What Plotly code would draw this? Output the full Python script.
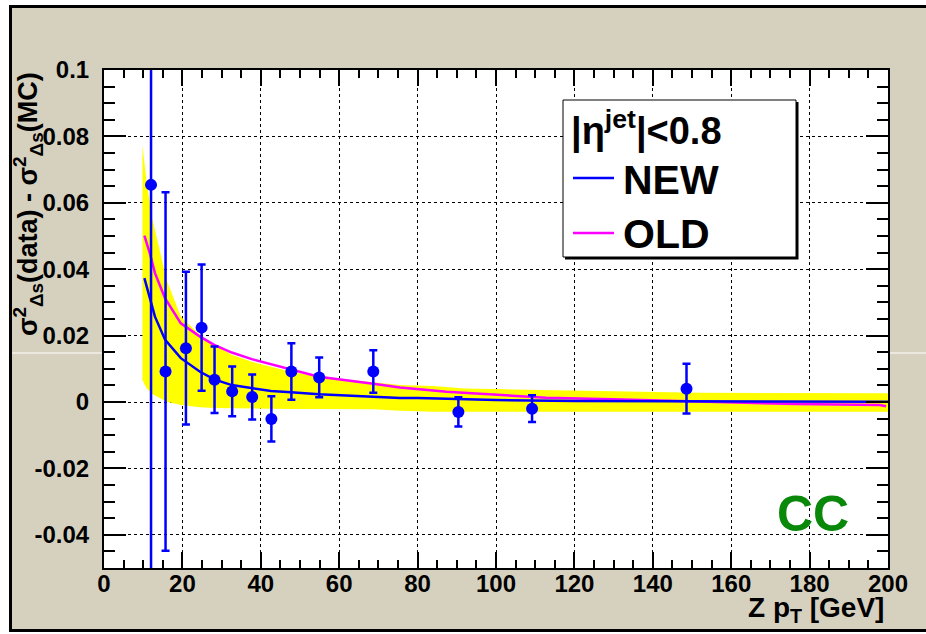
import plotly.graph_objects as go

# ---------------- data ----------------
pt_x = [12.0, 15.7, 20.9, 24.9, 28.2, 32.7, 37.8, 42.7, 47.8, 54.9, 68.7, 90.4, 109.2, 148.6]
pt_y = [0.0654, 0.0092, 0.0162, 0.0224, 0.0067, 0.0032, 0.0015, -0.0051, 0.0092, 0.0074, 0.0092, -0.0030, -0.0020, 0.0040]
pt_err = [0.13, 0.054, 0.023, 0.019, 0.010, 0.0075, 0.0068, 0.0068, 0.0085, 0.0060, 0.0064, 0.0044, 0.0040, 0.0075]

new_x = [10.3, 11.7, 13.0, 15.6, 19.6, 24.5, 28.1, 32.6, 37.7, 42.6, 47.7, 54.8, 68.7, 75.5, 80, 90, 100, 120, 140, 160, 180, 200]
new_y = [0.0373, 0.0317, 0.0257, 0.0187, 0.0132, 0.0091, 0.0068, 0.0051, 0.0041, 0.0033, 0.0029, 0.0023, 0.0016, 0.0012, 0.0012, 0.0008, 0.0006, 0.0003, 0.0002, 0.0002, 0.0001, 0.0001]

old_x = [10.3, 11.7, 13.0, 15.6, 19.6, 24.5, 28.1, 32.6, 37.7, 42.6, 47.7, 54.8, 68.7, 75.5, 87.4, 100, 112.8, 129.8, 142.5, 159.5, 176.5, 197.8, 199.5]
old_y = [0.0501, 0.0448, 0.0388, 0.0312, 0.0237, 0.0197, 0.0172, 0.0149, 0.0129, 0.0114, 0.0098, 0.0076, 0.0055, 0.0044, 0.0031, 0.0021, 0.0013, 0.0008, 0.0004, -0.0002, -0.0006, -0.0009, -0.0013]

band_x = [9.8, 10.9, 12.3, 16.0, 19.6, 24.5, 28.1, 32.6, 37.7, 42.6, 47.7, 54.8, 68.7, 75.5, 84, 92, 104, 123, 152, 200]
band_hi = [0.0774, 0.0660, 0.0553, 0.0367, 0.0257, 0.0202, 0.0172, 0.0142, 0.0121, 0.0106, 0.0091, 0.0076, 0.0058, 0.0051, 0.0048, 0.0041, 0.0038, 0.0034, 0.0028, 0.0026]
band_lo = [0.0066, 0.0041, 0.0024, 0.0001, -0.0009, -0.0016, -0.0018, -0.0019, -0.0020, -0.0021, -0.0021, -0.0021, -0.0022, -0.0026, -0.0029, -0.0029, -0.0029, -0.0029, -0.0029, -0.0029]

x_ticks = [0, 20, 40, 60, 80, 100, 120, 140, 160, 180, 200]
x_ticktext = ["0", "20", "40", "60", "80", "100", "120", "140", "160", "180", "200"]
y_ticks = [-0.04, -0.02, 0.0, 0.02, 0.04, 0.06, 0.08, 0.1]
y_ticktext = ["-0.04", "-0.02", "0", "0.02", "0.04", "0.06", "0.08", "0.1"]

# ---------------- layout constants ----------------
W, H = 926, 634
L, R, T, B = 104, 38, 70, 66
PW, PH = W - L - R, H - T - B
BEIGE = "#d6d1bf"
FONT = "Liberation Sans"


def px(xpage):
    return (xpage - L) / PW


def py(ypage):
    return (H - B - ypage) / PH


fig = go.Figure()

# yellow band
fig.add_trace(go.Scatter(x=band_x, y=band_lo, mode="lines", line=dict(width=0, color="#ffff00"),
                         showlegend=False, hoverinfo="skip"))
fig.add_trace(go.Scatter(x=band_x, y=band_hi, mode="lines", line=dict(width=0, color="#ffff00"),
                         fill="tonexty", fillcolor="#ffff00", showlegend=False, hoverinfo="skip"))
# curves
fig.add_trace(go.Scatter(x=old_x, y=old_y, mode="lines", line=dict(color="#ff00ff", width=2.5),
                         showlegend=False, name="OLD"))
fig.add_trace(go.Scatter(x=new_x, y=new_y, mode="lines", line=dict(color="#0000ff", width=2.5),
                         showlegend=False, name="NEW"))
# data points
fig.add_trace(go.Scatter(x=pt_x, y=pt_y, mode="markers",
                         marker=dict(color="#0000ff", size=12, symbol="circle"),
                         error_y=dict(type="data", array=pt_err, color="#0000ff", thickness=2.5, width=4),
                         showlegend=False, name="data"))

axis_common = dict(
    ticks="inside", tickwidth=2, tickcolor="black",
    showgrid=True, gridcolor="black", griddash="dot", gridwidth=1,
    showline=True, linecolor="black", linewidth=2, mirror="ticks",
    zeroline=False,
    tickfont=dict(family=FONT, size=24, color="black", weight="bold"),
)

fig.update_xaxes(range=[0, 200], tickmode="array", tickvals=x_ticks, ticktext=x_ticktext, ticklen=16,
                 minor=dict(ticks="inside", ticklen=8, tickwidth=2, tickcolor="black", dtick=5, tick0=0,
                            showgrid=False),
                 ticklabelstandoff=-7,
                 **axis_common)
fig.update_yaxes(range=[-0.05, 0.1], tickmode="array", tickvals=y_ticks, ticktext=y_ticktext, ticklen=22,
                 minor=dict(ticks="inside", ticklen=11, tickwidth=2, tickcolor="black", dtick=0.005,
                            tick0=0, showgrid=False),
                 ticklabelstandoff=8,
                 **axis_common)

shapes = []
# canvas frame: white edges + black border lines
shapes.append(dict(type="rect", xref="paper", yref="paper", x0=px(-5), x1=px(940), y0=py(-5), y1=py(5),
                   fillcolor="white", line=dict(width=0), layer="below"))
shapes.append(dict(type="rect", xref="paper", yref="paper", x0=px(-5), x1=px(9), y0=py(-5), y1=py(640),
                   fillcolor="white", line=dict(width=0), layer="below"))
shapes.append(dict(type="rect", xref="paper", yref="paper", x0=px(-5), x1=px(940), y0=py(632), y1=py(640),
                   fillcolor="white", line=dict(width=0), layer="below"))
shapes.append(dict(type="line", xref="paper", yref="paper", x0=px(9), x1=px(940), y0=py(6.5), y1=py(6.5),
                   line=dict(color="black", width=3), layer="below"))
shapes.append(dict(type="line", xref="paper", yref="paper", x0=px(10.5), x1=px(10.5), y0=py(5), y1=py(632),
                   line=dict(color="black", width=3), layer="below"))
shapes.append(dict(type="line", xref="paper", yref="paper", x0=px(9), x1=px(940), y0=py(630.5), y1=py(630.5),
                   line=dict(color="black", width=3), layer="below"))
# white horizontal artifact line
shapes.append(dict(type="line", xref="paper", yref="paper", x0=px(12), x1=px(940), y0=py(353), y1=py(353),
                   line=dict(color="white", width=1), layer="below"))
# legend box with shadow
shapes.append(dict(type="rect", xref="paper", yref="paper", x0=px(565), x1=px(798.5), y0=py(259.5), y1=py(102),
                   fillcolor="black", line=dict(width=0), layer="above"))
shapes.append(dict(type="rect", xref="paper", yref="paper", x0=px(563), x1=px(796), y0=py(257), y1=py(100),
                   fillcolor="white", line=dict(color="black", width=1), layer="above"))
shapes.append(dict(type="line", xref="paper", yref="paper", x0=px(573), x1=px(614), y0=py(178), y1=py(178),
                   line=dict(color="#0000ff", width=2.5), layer="above"))
shapes.append(dict(type="line", xref="paper", yref="paper", x0=px(573), x1=px(614), y0=py(233), y1=py(233),
                   line=dict(color="#ff00ff", width=2.5), layer="above"))

annotations = [
    dict(text="|η<sup>jet</sup>|<0.8", xref="paper", yref="paper", x=px(569), y=py(128),
         xanchor="left", yanchor="middle", showarrow=False,
         font=dict(family=FONT, size=38, color="black", weight="bold")),
    dict(text="NEW", xref="paper", yref="paper", x=px(621), y=py(180),
         xanchor="left", yanchor="middle", showarrow=False,
         font=dict(family=FONT, size=41, color="black", weight="bold")),
    dict(text="OLD", xref="paper", yref="paper", x=px(621), y=py(234),
         xanchor="left", yanchor="middle", showarrow=False,
         font=dict(family=FONT, size=41, color="black", weight="bold")),
    dict(text="CC", xref="paper", yref="paper", x=px(813), y=py(514),
         xanchor="center", yanchor="middle", showarrow=False,
         font=dict(family=FONT, size=50, color="#0a880a", weight="bold")),
    dict(text="Z p<sub>T</sub> [GeV]", xref="paper", yref="paper", x=px(886), y=py(609),
         xanchor="right", yanchor="middle", showarrow=False,
         font=dict(family=FONT, size=28, color="black", weight="bold")),
    dict(text="σ<sup>2</sup><sub>Δs</sub>(data) - σ<sup>2</sup><sub>Δs</sub>(MC)", xref="paper", yref="paper",
         x=px(28), y=py(70), xanchor="center", yanchor="top", textangle=-90, showarrow=False,
         font=dict(family=FONT, size=27, color="black", weight="bold")),
]

fig.update_layout(
    width=W, height=H,
    margin=dict(l=L, r=R, t=T, b=B),
    paper_bgcolor=BEIGE, plot_bgcolor="white",
    showlegend=False,
    shapes=shapes, annotations=annotations,
)

fig.write_html("out.html", config={"displayModeBar": False},
               post_script="document.body.style.margin='0';document.body.style.overflow='hidden';")
